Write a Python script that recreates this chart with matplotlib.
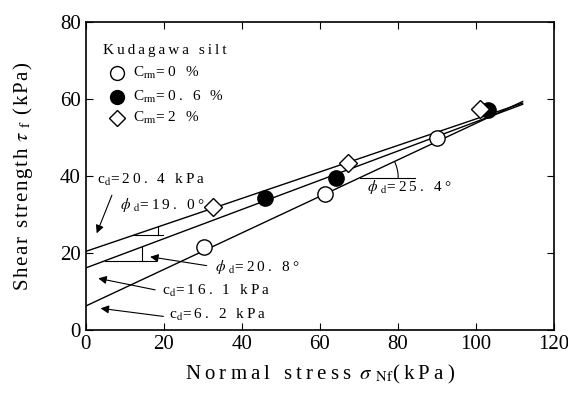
import matplotlib.pyplot as plt
import numpy as np
import re

plt.rcParams['font.family'] = ['Liberation Serif', 'DejaVu Serif']
plt.rcParams['mathtext.fontset'] = 'stix'

# measured failure points, Kudagawa silt
sig_0 = [30.3, 61.4, 90.0]
tau_0 = [21.5, 35.2, 50.0]
sig_06 = [46.0, 64.2, 103.2]
tau_06 = [34.2, 39.4, 57.1]
sig_2 = [32.7, 67.3, 101.1]
tau_2 = [31.9, 43.5, 57.3]

# strength parameters (c_d in kPa, phi_d in degrees)
c_d = [6.2, 16.1, 20.4]
phi_d = [25.4, 20.8, 19.0]
x_end = 112


def sp(s, gap='\u2009'):
    # widen plain text with small spaces, leave $...$ parts alone
    parts = re.split(r'(\$[^$]*\$)', s)
    out = []
    for p in parts:
        if p.startswith('$'):
            out.append(p)
        else:
            out.append(gap.join(p))
    return ''.join(out)


fig = plt.figure(figsize=(5.68, 3.96), dpi=100)
ax = fig.add_axes([0.151, 0.167, 0.824, 0.777])

xs = np.array([0, x_end])
for c, p in zip(c_d, phi_d):
    ax.plot(xs, c + xs * np.tan(np.radians(p)), c='k', lw=1.0, zorder=2)

ax.plot(sig_0, tau_0, 'o', ms=11, mfc='white', mec='k', mew=1.0, zorder=3)
ax.plot(sig_06, tau_06, 'o', ms=11, mfc='k', mec='k', zorder=3)
ax.plot(sig_2, tau_2, 'D', ms=9.5, mfc='white', mec='k', mew=1.0, zorder=3)


def tau_on(i, x):
    return c_d[i] + x * np.tan(np.radians(phi_d[i]))


# angle marks
# phi = 19.0
x0 = 12.2
ax.plot([x0, 19.9], [tau_on(2, x0)] * 2, c='k', lw=0.8)
ax.plot([18.4, 18.4], [tau_on(2, x0), tau_on(2, 18.4)], c='k', lw=0.8)
# phi = 20.8
x0 = 4.9
ax.plot([x0, 18.0], [tau_on(1, x0)] * 2, c='k', lw=0.8)
ax.plot([14.5, 14.5], [tau_on(1, x0), tau_on(1, 14.5)], c='k', lw=0.8)
# phi = 25.4
x0 = 70.3
y0 = tau_on(0, x0)
ax.plot([x0, 84.4], [y0, y0], c='k', lw=0.8)
r = 9.8
a = np.linspace(0, np.radians(phi_d[0]), 30)
ax.plot(x0 + r * np.cos(a), y0 + r * np.sin(a), c='k', lw=0.8)

fs = 11
ax.text(2.8, 39.1, sp(r'c$_{\mathrm{d}}$=20. 4 kPa'), fontsize=fs, va='center')
ax.text(8.8, 32.5, sp(r'$\phi$ $_{\mathrm{d}}$=19. 0°'), fontsize=fs, va='center')
ax.text(33.2, 16.4, sp(r'$\phi$ $_{\mathrm{d}}$=20. 8°'), fontsize=fs, va='center')
ax.text(19.5, 10.1, sp(r'c$_{\mathrm{d}}$=16. 1 kPa'), fontsize=fs, va='center')
ax.text(21.4, 3.9, sp(r'c$_{\mathrm{d}}$=6. 2 kPa'), fontsize=fs, va='center')
ax.text(72.0, 37.2, sp(r'$\phi$ $_{\mathrm{d}}$=25. 4°'), fontsize=fs, va='center')

arr = dict(arrowstyle='-|>', color='k', lw=0.8, mutation_scale=12, shrinkA=0, shrinkB=0)
ax.annotate('', xy=(2.8, 25.1), xytext=(6.7, 35.0), arrowprops=arr)
ax.annotate('', xy=(16.5, 19.0), xytext=(31.0, 16.7), arrowprops=arr)
ax.annotate('', xy=(3.2, 13.4), xytext=(17.8, 10.4), arrowprops=arr)
ax.annotate('', xy=(3.8, 5.6), xytext=(19.9, 3.5), arrowprops=arr)

# legend block
ax.text(4.5, 72.7, sp('Kudagawa silt'), fontsize=fs, va='center')
ax.plot([7.9], [66.7], 'o', ms=10, mfc='white', mec='k', mew=1.0)
ax.plot([7.9], [60.6], 'o', ms=10, mfc='k', mec='k')
ax.plot([7.9], [55.0], 'D', ms=8.5, mfc='white', mec='k', mew=1.0)
ax.text(12.0, 66.7, sp(r'C$_{\mathrm{rm}}$=0 %'), fontsize=fs, va='center')
ax.text(12.0, 60.6, sp(r'C$_{\mathrm{rm}}$=0. 6 %'), fontsize=fs, va='center')
ax.text(12.0, 55.0, sp(r'C$_{\mathrm{rm}}$=2 %'), fontsize=fs, va='center')

ax.set_xlim(0, 120)
ax.set_ylim(0, 80)
ax.set_xticks(range(0, 121, 20))
ax.set_yticks(range(0, 81, 20))
ax.tick_params(direction='in', top=True, right=True, labelsize=15, length=5)
for s in ax.spines.values():
    s.set_linewidth(1.2)
ax.set_xlabel(sp(r'Normal stress $\sigma$ $_{\mathrm{Nf}}$(kPa)'), fontsize=15, labelpad=7)
ax.set_ylabel(sp(r'Shear strength $\tau$ $_{\mathrm{f}}$ (kPa)', '\u200a'), fontsize=15, labelpad=18)

fig.savefig('out.png', dpi=100)
